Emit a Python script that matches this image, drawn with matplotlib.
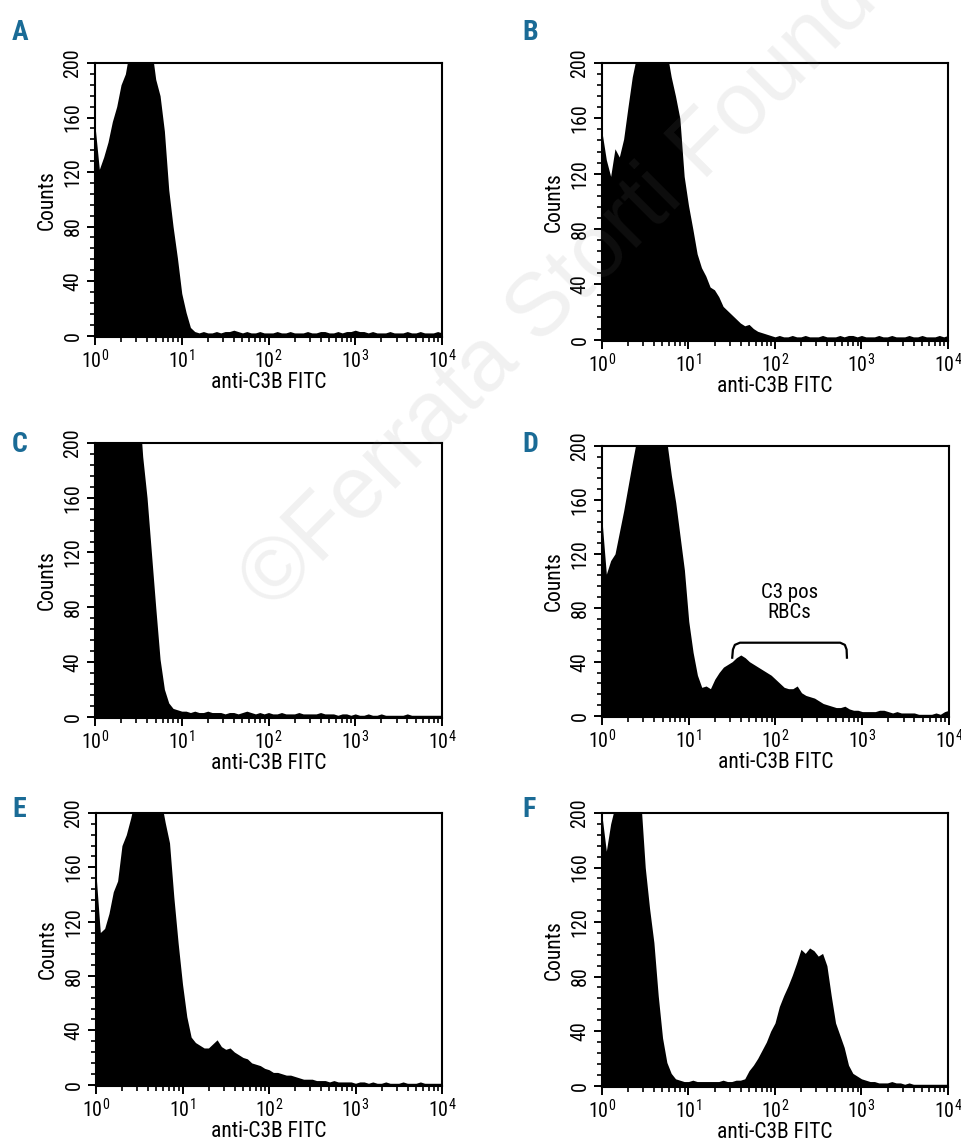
import numpy as np
import matplotlib
matplotlib.use('Agg')
import matplotlib.pyplot as plt
from matplotlib import font_manager
from matplotlib.ticker import MultipleLocator, LogLocator, NullFormatter

# pick the first installed condensed sans family
available = set(f.name for f in font_manager.fontManager.ttflist)
preferred = ['Liberation Sans Narrow', 'Arial Narrow', 'Roboto Condensed', 'Archivo Narrow',
             'PT Sans Narrow', 'IBM Plex Sans Condensed', 'Fira Sans Condensed',
             'Encode Sans Condensed', 'Sofia Sans Condensed', 'Barlow Semi Condensed',
             'Liberation Sans']
narrow = next((f for f in preferred if f in available), 'DejaVu Sans')
bold_pref = ['Roboto Condensed', 'Fira Sans Condensed', 'Barlow Condensed', 'Archivo Narrow', narrow]
narrow_bold = next((f for f in bold_pref if f in available), narrow)

plt.rcParams['font.family'] = [narrow, 'DejaVu Sans']
plt.rcParams['mathtext.fontset'] = 'custom'
plt.rcParams['mathtext.rm'] = narrow
plt.rcParams['mathtext.it'] = narrow
plt.rcParams['mathtext.bf'] = narrow + ':bold'

# ---------------- data ----------------
panel_letters = ['A', 'B', 'C', 'D', 'E', 'F']
bins_per_decade = 20
n_decades = 4

counts_A = [154, 122, 131, 142, 157, 168, 184, 192, 210, 215,
            220, 222, 218, 212, 188, 176, 150, 107, 80, 57,
            31, 17, 6, 3, 2, 3, 2, 2, 3, 2,
            3, 3, 4, 3, 2, 3, 2, 2, 3, 2,
            2, 2, 3, 2, 2, 3, 2, 2, 2, 3,
            2, 2, 3, 3, 2, 2, 3, 2, 3, 3,
            4, 3, 3, 2, 3, 2, 2, 2, 3, 2,
            2, 2, 3, 2, 2, 3, 2, 2, 2, 3,
            2]
counts_B = [150, 130, 118, 138, 132, 145, 168, 190, 205, 215,
            220, 225, 225, 220, 215, 208, 190, 176, 160, 118,
            97, 80, 62, 52, 46, 38, 36, 31, 24, 21,
            18, 15, 12, 10, 11, 8, 6, 5, 4, 3,
            2, 3, 2, 2, 3, 2, 2, 3, 2, 2,
            2, 3, 2, 2, 2, 3, 2, 3, 3, 2,
            3, 2, 2, 2, 3, 2, 2, 3, 2, 2,
            2, 3, 2, 2, 3, 2, 2, 2, 3, 2,
            3]
counts_C = [230, 250, 260, 270, 280, 285, 280, 270, 260, 250,
            235, 190, 160, 120, 80, 42, 20, 10, 6, 5,
            4, 4, 3, 4, 3, 3, 4, 3, 3, 3,
            2, 3, 3, 2, 3, 4, 3, 2, 3, 2,
            3, 2, 2, 3, 2, 2, 2, 3, 2, 2,
            2, 2, 3, 2, 2, 2, 1, 2, 2, 1,
            2, 1, 1, 2, 1, 1, 2, 1, 1, 1,
            1, 1, 2, 1, 1, 1, 1, 1, 1, 1,
            1]
counts_D = [145, 105, 115, 120, 136, 152, 170, 188, 205, 215,
            220, 222, 220, 215, 210, 202, 178, 158, 133, 108,
            70, 47, 30, 21, 22, 20, 27, 32, 36, 38,
            40, 43, 45, 43, 40, 38, 36, 34, 32, 30,
            27, 24, 21, 20, 20, 22, 17, 15, 14, 13,
            11, 9, 8, 7, 6, 6, 7, 5, 4, 4,
            3, 3, 3, 3, 4, 4, 3, 2, 3, 2,
            2, 2, 2, 1, 1, 1, 1, 2, 1, 3,
            4]
counts_E = [155, 112, 115, 126, 142, 150, 176, 184, 196, 210,
            218, 222, 224, 222, 218, 210, 193, 178, 138, 104,
            74, 50, 35, 31, 29, 27, 27, 30, 33, 28,
            26, 27, 24, 22, 20, 19, 16, 15, 14, 12,
            11, 9, 9, 8, 7, 7, 6, 5, 4, 4,
            4, 3, 3, 3, 2, 3, 2, 2, 2, 2,
            1, 2, 2, 1, 2, 1, 1, 2, 1, 1,
            1, 2, 1, 1, 1, 2, 1, 1, 1, 1,
            1]
counts_F = [198, 172, 192, 205, 215, 220, 222, 220, 215, 208,
            160, 130, 105, 66, 35, 17, 9, 5, 4, 3,
            3, 4, 3, 3, 3, 3, 3, 3, 4, 3,
            3, 4, 4, 5, 11, 15, 20, 26, 32, 40,
            46, 58, 66, 73, 81, 90, 100, 97, 101, 99,
            95, 97, 88, 66, 46, 37, 28, 15, 9, 7,
            5, 4, 3, 3, 2, 2, 2, 3, 2, 2,
            1, 2, 1, 1, 1, 1, 1, 1, 1, 1,
            1]
panel_counts = [counts_A, counts_B, counts_C, counts_D, counts_E, counts_F]

x_ticks = [1, 10, 100, 1000, 10000]
x_tick_labels = [r'$\mathregular{10^{0}}$', r'$\mathregular{10^{1}}$', r'$\mathregular{10^{2}}$',
                 r'$\mathregular{10^{3}}$', r'$\mathregular{10^{4}}$']
y_ticks = [0, 40, 80, 120, 160, 200]
y_tick_labels = ['0', '40', '80', '120', '160', '200']
x_label = 'anti-C3B FITC'
y_label = 'Counts'

# annotation in panel D
gate_label = 'C3 pos\nRBCs'
gate_label_xy = (145, 84)
bracket_x = [31.7, 32.3, 34.0, 38.9, 557, 630, 660, 666]
bracket_y = [43, 49, 52.5, 54.1, 54.1, 52.5, 49, 43]

watermark = '\u00a9Ferrata Storti Foundation'

# ---------------- layout ----------------
W, H = 962, 1145
boxes = {'A': (95, 63, 442, 337), 'B': (602, 63, 948, 341),
         'C': (95, 443, 442, 718), 'D': (602, 446, 949, 717),
         'E': (96, 813, 442, 1086), 'F': (602, 813, 948, 1087)}
letter_pos = {'A': (12, 40), 'B': (522, 40), 'C': (12, 452),
              'D': (522, 452), 'E': (12, 817), 'F': (522, 817)}
letter_color = '#1a6b96'

fig = plt.figure(figsize=(W / 100, H / 100), dpi=100)
fig.patch.set_facecolor('white')

fluorescence = 10 ** (np.arange(bins_per_decade * n_decades + 1) / bins_per_decade)

for letter, counts in zip(panel_letters, panel_counts):
    l, t, r, b = boxes[letter]
    ax = fig.add_axes([l / W, 1 - b / H, (r - l) / W, (b - t) / H])
    ax.fill_between(fluorescence, counts, 0, color='black', linewidth=0)
    ax.set_xscale('log')
    ax.set_xlim(1, 1e4)
    ax.set_ylim(-1, 200)
    ax.set_xticks(x_ticks)
    ax.set_xticklabels(x_tick_labels)
    ax.xaxis.set_minor_locator(LogLocator(base=10, subs=np.arange(2, 10)))
    ax.xaxis.set_minor_formatter(NullFormatter())
    ax.set_yticks(y_ticks)
    ax.set_yticklabels(y_tick_labels, rotation=90, va='center')
    ax.yaxis.set_minor_locator(MultipleLocator(8))
    ax.tick_params(which='major', direction='out', length=6, width=1.4,
                   labelsize=14.5, pad=2.5)
    ax.tick_params(which='minor', direction='out', length=3.5, width=1.2)
    ax.tick_params(axis='y', which='major', pad=3)
    for s in ax.spines.values():
        s.set_linewidth(1.5)
    ax.set_xlabel(x_label, fontsize=15.5, labelpad=0)
    ax.set_ylabel(y_label, fontsize=15.5, labelpad=4)
    lx, ly = letter_pos[letter]
    fig.text(lx / W, 1 - ly / H, letter, fontsize=20, fontweight='bold',
             color=letter_color, ha='left', va='baseline',
             family=[narrow_bold, 'DejaVu Sans'])
    if letter == 'D':
        ax.plot(bracket_x, bracket_y, color='black', linewidth=1.6)
        ax.text(gate_label_xy[0], gate_label_xy[1], gate_label, fontsize=15,
                ha='center', va='center', linespacing=1.1)

fig.text(272 / W, 1 - 612 / H, watermark, fontsize=64, rotation=45,
         rotation_mode='anchor', ha='left', va='baseline',
         color='#808080', alpha=0.11, family=['Liberation Sans', 'DejaVu Sans'])

fig.savefig('out.png', dpi=100)
